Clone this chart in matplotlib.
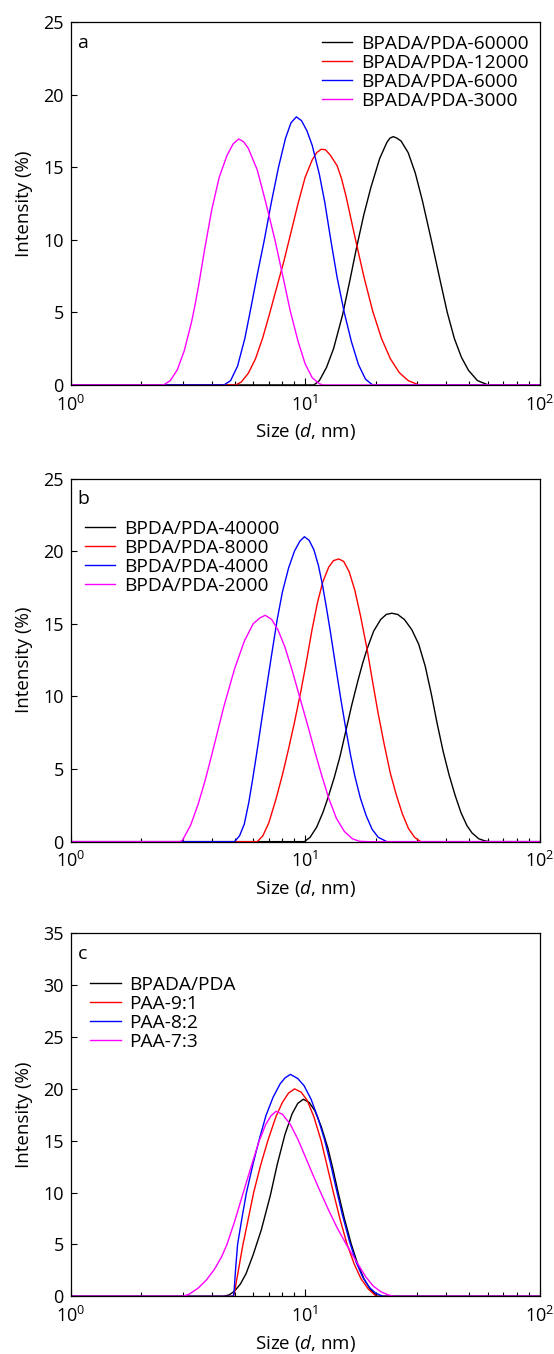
import matplotlib
matplotlib.use('Agg')
import matplotlib.pyplot as plt

plt.rcParams['font.family'] = ['Open Sans', 'DejaVu Sans']
plt.rcParams['mathtext.fontset'] = 'custom'
plt.rcParams['mathtext.rm'] = 'Open Sans'
plt.rcParams['mathtext.it'] = 'Open Sans:italic'

# --- panel a: BPADA/PDA series ---
a_labels = ['BPADA/PDA-60000', 'BPADA/PDA-12000', 'BPADA/PDA-6000', 'BPADA/PDA-3000']
a_black_size = [10.91, 11.50, 12.33, 13.22, 14.43, 15.47, 16.59, 17.78, 19.07, 20.80, 22.31, 23.0, 23.76,
                24.6, 25.65, 27.50, 29.49, 31.62, 34.50, 37.65, 40.37, 43.29, 46.42, 49.77, 54.30, 60.30]
a_black_val = [0, 0.3, 1.2, 2.5, 4.8, 7.1, 9.5, 11.7, 13.6, 15.6, 16.7, 17.0, 17.1,
               17.0, 16.8, 16.0, 14.6, 12.7, 10.0, 7.2, 5.0, 3.2, 1.9, 1.0, 0.3, 0]
a_red_size = [5.06, 5.34, 5.72, 6.14, 6.58, 7.05, 7.56, 8.11, 8.70, 9.33, 10.0, 10.72, 11.20, 11.70,
              12.20, 12.77, 13.69, 14.30, 14.94, 16.30, 17.78, 19.40, 21.17, 23.10, 25.21, 27.50, 30.53]
a_red_val = [0, 0.2, 0.8, 1.8, 3.2, 4.9, 6.7, 8.5, 10.5, 12.5, 14.3, 15.5, 16.0, 16.23,
             16.2, 15.85, 15.1, 14.2, 13.0, 10.2, 7.5, 5.1, 3.2, 1.8, 0.85, 0.3, 0]
a_blue_size = [4.51, 4.81, 5.15, 5.53, 5.82, 6.25, 6.70, 7.18, 7.70, 8.25, 8.70, 9.17,
               9.65, 10.18, 10.72, 11.50, 12.12, 12.86, 13.69, 14.68, 15.74, 16.88, 18.09, 19.40]
a_blue_val = [0, 0.3, 1.3, 3.2, 5.0, 7.6, 10.0, 12.6, 15.0, 17.0, 18.05, 18.46,
              18.2, 17.5, 16.5, 14.5, 12.6, 10.0, 7.4, 5.0, 3.0, 1.4, 0.4, 0]
a_mag_size = [2.49, 2.66, 2.85, 3.05, 3.27, 3.37, 3.51, 3.73, 4.00, 4.30, 4.64, 4.93, 5.21,
              5.46, 5.72, 6.25, 6.81, 7.43, 8.03, 8.64, 9.33, 10.0, 10.72, 11.50, 11.91]
a_mag_val = [0, 0.3, 1.05, 2.35, 4.27, 5.28, 6.81, 9.38, 12.1, 14.3, 15.8, 16.6, 16.94,
             16.75, 16.3, 14.8, 12.5, 10.0, 7.5, 5.1, 3.0, 1.45, 0.5, 0.08, 0]

# --- panel b: BPDA/PDA series ---
b_labels = ['BPDA/PDA-40000', 'BPDA/PDA-8000', 'BPDA/PDA-4000', 'BPDA/PDA-2000']
b_black_size = [9.93, 10.5, 11.2, 11.9, 12.5, 13.3, 14.1, 14.9, 15.8, 16.8, 17.6, 18.4, 19.6, 21.0, 22.2, 23.4,
                24.8, 26.5, 28.5, 30.5, 32.5, 34.5, 36.6, 38.8, 41.1, 43.6, 46.2, 49.0, 51.5, 55.0, 58.5, 61.4]
b_black_val = [0, 0.3, 1.0, 2.0, 3.0, 4.4, 5.9, 7.6, 9.4, 11.1, 12.3, 13.3, 14.5, 15.3, 15.65, 15.73,
               15.65, 15.3, 14.6, 13.6, 12.1, 10.2, 8.1, 6.2, 4.6, 3.2, 2.0, 1.1, 0.6, 0.2, 0.05, 0]
b_red_size = [6.25, 6.6, 7.0, 7.5, 8.0, 8.5, 9.0, 9.6, 10.1, 10.7, 11.3, 11.9, 12.6, 13.2, 13.9,
              14.6, 15.4, 16.3, 17.2, 18.4, 19.4, 20.5, 21.8, 23.1, 24.5, 26.0, 27.6, 29.3, 31.1]
b_red_val = [0, 0.4, 1.3, 2.9, 4.6, 6.4, 8.2, 10.4, 12.3, 14.6, 16.5, 17.9, 18.9, 19.35, 19.47,
             19.3, 18.6, 17.3, 15.6, 13.2, 11.0, 8.8, 6.6, 4.7, 3.2, 1.9, 0.9, 0.3, 0]
b_blue_size = [5.0, 5.25, 5.5, 5.75, 6.0, 6.25, 6.5, 6.8, 7.2, 7.6, 8.0, 8.5, 9.0, 9.5, 9.93, 10.4,
               10.9, 11.4, 11.85, 12.3, 12.8, 13.4, 14.2, 14.9, 15.6, 16.3, 17.2, 18.2, 19.3, 20.5, 22.3]
b_blue_val = [0, 0.4, 1.2, 2.7, 4.5, 6.35, 8.2, 10.3, 12.9, 15.3, 17.2, 18.85, 20.0, 20.7, 21.0, 20.75,
              20.1, 19.0, 17.7, 16.2, 14.5, 12.4, 9.8, 7.8, 6.0, 4.5, 3.0, 1.8, 0.85, 0.3, 0]
b_mag_size = [2.93, 3.0, 3.25, 3.5, 3.75, 4.0, 4.25, 4.5, 5.0, 5.5, 6.0, 6.4, 6.76, 7.2,
              7.65, 8.2, 8.8, 9.6, 10.3, 11.0, 11.8, 12.6, 13.6, 14.7, 15.9, 17.0, 18.5]
b_mag_val = [0, 0.1, 1.15, 2.6, 4.25, 6.0, 7.7, 9.3, 11.9, 13.8, 15.0, 15.4, 15.59, 15.3,
             14.6, 13.4, 11.8, 9.64, 7.9, 6.2, 4.5, 3.0, 1.6, 0.7, 0.2, 0.03, 0]

# --- panel c: PAA blends ---
c_labels = ['BPADA/PDA', 'PAA-9:1', 'PAA-8:2', 'PAA-7:3']
c_black_size = [4.5, 4.75, 5.0, 5.3, 5.6, 6.0, 6.5, 7.1, 7.6, 8.2, 8.8, 9.3, 9.82,
                10.4, 11.0, 11.7, 12.5, 13.1, 13.8, 14.7, 15.7, 16.7, 17.8, 19.0, 20.3]
c_black_val = [0, 0.15, 0.5, 1.2, 2.2, 4.0, 6.4, 9.7, 12.7, 15.6, 17.6, 18.6, 19.0,
               18.7, 17.9, 16.4, 14.3, 12.4, 10.1, 7.5, 5.1, 3.2, 1.7, 0.65, 0]
c_red_size = [4.95, 5.0, 5.2, 5.43, 5.7, 6.03, 6.45, 6.93, 7.5, 8.0, 8.5, 9.01,
              9.6, 10.2, 10.9, 11.7, 12.4, 13.2, 14.1, 15.1, 16.2, 17.3, 18.6, 20.1]
c_red_val = [0, 0.4, 2.6, 5.0, 7.3, 10.0, 12.6, 15.0, 17.3, 18.7, 19.6, 20.0,
             19.7, 18.9, 17.3, 15.0, 12.6, 10.0, 7.4, 5.0, 3.1, 1.7, 0.7, 0]
c_blue_size = [4.93, 4.97, 5.05, 5.15, 5.4, 5.62, 6.0, 6.35, 6.8, 7.3, 7.83, 8.2, 8.65, 9.3,
               9.9, 10.6, 11.3, 12.1, 12.8, 13.5, 14.4, 15.5, 16.5, 17.6, 18.8, 20.0, 21.5]
c_blue_val = [0, 0.3, 2.6, 5.0, 7.8, 10.0, 12.8, 15.0, 17.4, 19.2, 20.5, 21.05, 21.4, 21.0,
              20.3, 19.0, 17.3, 15.1, 12.9, 10.6, 7.9, 5.2, 3.3, 1.85, 0.85, 0.3, 0]
c_mag_size = [3.0, 3.2, 3.5, 3.8, 4.1, 4.4, 4.64, 5.0, 5.43, 5.9, 6.35, 6.8, 7.15, 7.51, 8.0,
              8.64, 9.33, 10.0, 10.8, 11.7, 12.6, 13.7, 14.9, 16.2, 18.1, 19.5, 21.0, 22.5, 24.0]
c_mag_val = [0, 0.2, 0.8, 1.6, 2.6, 3.8, 5.0, 7.2, 9.9, 12.6, 14.9, 16.6, 17.4, 17.84, 17.55,
             16.6, 15.1, 13.5, 11.7, 9.9, 8.3, 6.6, 5.1, 3.7, 1.9, 1.0, 0.45, 0.15, 0]

colors = ['black', '#ff0000', '#0000ff', '#ff00ff']

panels = [
    ('a', a_labels, [(a_black_size, a_black_val), (a_red_size, a_red_val),
                     (a_blue_size, a_blue_val), (a_mag_size, a_mag_val)],
     25, (0.535, 0.965)),
    ('b', b_labels, [(b_black_size, b_black_val), (b_red_size, b_red_val),
                     (b_blue_size, b_blue_val), (b_mag_size, b_mag_val)],
     25, (0.030, 0.886)),
    ('c', c_labels, [(c_black_size, c_black_val), (c_red_size, c_red_val),
                     (c_blue_size, c_blue_val), (c_mag_size, c_mag_val)],
     35, (0.041, 0.882)),
]

fig = plt.figure(figsize=(5.54, 13.54), dpi=100)
bottoms = [0.7157, 0.3784, 0.0426]

for (letter, labels, series, ymax, leg_pos), bottom in zip(panels, bottoms):
    ax = fig.add_axes([0.1276, bottom, 0.8464, 0.2681])
    for (size, val), col, lab in zip(series, colors, labels):
        # baseline at zero over the whole size range
        x = [1.0] + size + [100.0]
        y = [0.0] + val + [0.0]
        ax.plot(x, y, color=col, lw=1.0, label=lab)

    ax.set_xscale('log')
    ax.set_xlim(1, 100)
    ax.set_ylim(0, ymax)
    ax.set_yticks(range(0, ymax + 1, 5))
    ax.tick_params(axis='both', which='both', direction='in', top=False, right=False,
                   labelsize=13, width=0.8)
    ax.tick_params(axis='x', which='major', length=5, pad=7)
    ax.tick_params(axis='x', which='minor', length=3)
    ax.tick_params(axis='y', which='major', length=4, pad=5)
    for sp in ax.spines.values():
        sp.set_linewidth(0.9)

    ax.set_xlabel('Size ($d$, nm)', fontsize=13.5)
    ax.set_ylabel('Intensity (%)', fontsize=13.5)
    ax.xaxis.set_label_coords(0.5, -0.10)
    ax.yaxis.set_label_coords(-0.080, 0.5)

    ax.text(0.026, 0.943, letter, transform=ax.transAxes, fontsize=14,
            ha='center', va='center')
    ax.legend(loc='upper left', bbox_to_anchor=leg_pos, frameon=False, fontsize=13.8,
              handlelength=1.6, handletextpad=0.45, labelspacing=0.05,
              borderpad=0, borderaxespad=0)

fig.savefig('out.png', dpi=100)
